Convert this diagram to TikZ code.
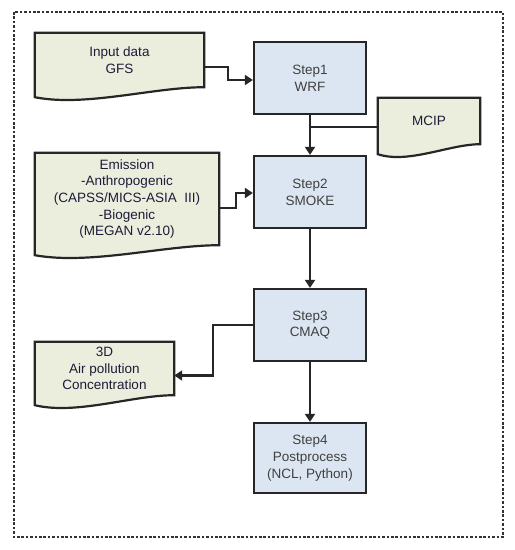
\documentclass[tikz,border=0pt]{standalone}
\usepackage{fontspec}
\setmainfont{Liberation Sans}
\usepackage{xcolor}
\usepackage{tikz}
\usetikzlibrary{arrows.meta, positioning, calc, backgrounds}
\definecolor{stepblue}{HTML}{DCE6F2}
\definecolor{docgreen}{HTML}{EBEEDC}
\definecolor{steptext}{HTML}{404040}
\definecolor{doctext}{HTML}{1C1C3A}

\begin{document}
\begin{tikzpicture}[
    x=1pt, y=-1pt,
    font=\fontsize{13.5}{16.7}\selectfont,
    stepbox/.style={draw=black!85, line width=2.2pt, fill=stepblue, text=steptext, align=center, minimum width=112pt, minimum height=72pt, inner sep=0pt},
    docbox/.style={align=center, text=doctext, inner sep=0pt},
    docline/.style={draw=black!85, line width=2.2pt, fill=docgreen, line join=miter},
    link/.style={draw=black!85, line width=2.1pt, -{Triangle[length=8pt, width=10pt]}},
    plain/.style={draw=black!85, line width=2.1pt},
  ]
    \useasboundingbox (0,0) rectangle (515,550);
    \draw[black!80, line width=2.6pt, dash pattern=on 2.6pt off 1.8pt] (14,12) rectangle (503,537);

    % model steps
    \node[stepbox] (s1) at (310,78) {Step1\\WRF};
    \node[stepbox] (s2) at (310,192) {Step2\\SMOKE};
    \node[stepbox] (s3) at (310,325) {Step3\\CMAQ};
    \node[stepbox, minimum height=70pt] (s4) at (310,458) {Step4\\Postprocess\\(NCL, Python)};

    % data documents
    \node[docbox, minimum width=169pt, minimum height=54pt] (inp) at (119.5,60) {Input data\\GFS};
    \node[docbox, minimum width=102pt, minimum height=46pt] (mcip) at (429,121) {MCIP};
    \node[docbox, minimum width=184pt, minimum height=92pt] (emi) at (127,199) {Emission\\-Anthropogenic\\(CAPSS/MICS-ASIA~ III)\\-Biogenic\\(MEGAN v2.10)};
    \node[docbox, minimum width=139pt, minimum height=53pt] (air) at (104.5,368.5) {3D\\Air pollution\\Concentration};

    \begin{scope}[on background layer]
      \foreach \n in {inp, mcip, emi, air} {
        \draw[docline] (\n.north west) -- (\n.north east) -- (\n.south east)
          .. controls ($(\n.south east)!0.3!(\n.south west)$) and ($(\n.south east)!0.7!(\n.south west)+(0,20)$)
          .. ($(\n.south west)+(0,10)$) -- cycle;
      }
    \end{scope}

    % connectors
    \draw[link] ([yshift=-7pt]inp.east) -- ++(24,0) |- ([yshift=-2pt]s1.west);
    \draw[link] (s1) -- (s2);
    \draw[plain] ([yshift=-6pt]mcip.west) -- ([yshift=-6pt]mcip.west -| s1.south);
    \draw[link] ([yshift=-9pt]emi.east) -- ++(17,0) |- ([yshift=-1pt]s2.west);
    \draw[link] (s2) -- (s3);
    \draw[link] (s3.west) -- ++(-40,0) |- ([yshift=-7pt]air.east);
    \draw[link] (s3) -- (s4);
  \end{tikzpicture}
\end{document}
